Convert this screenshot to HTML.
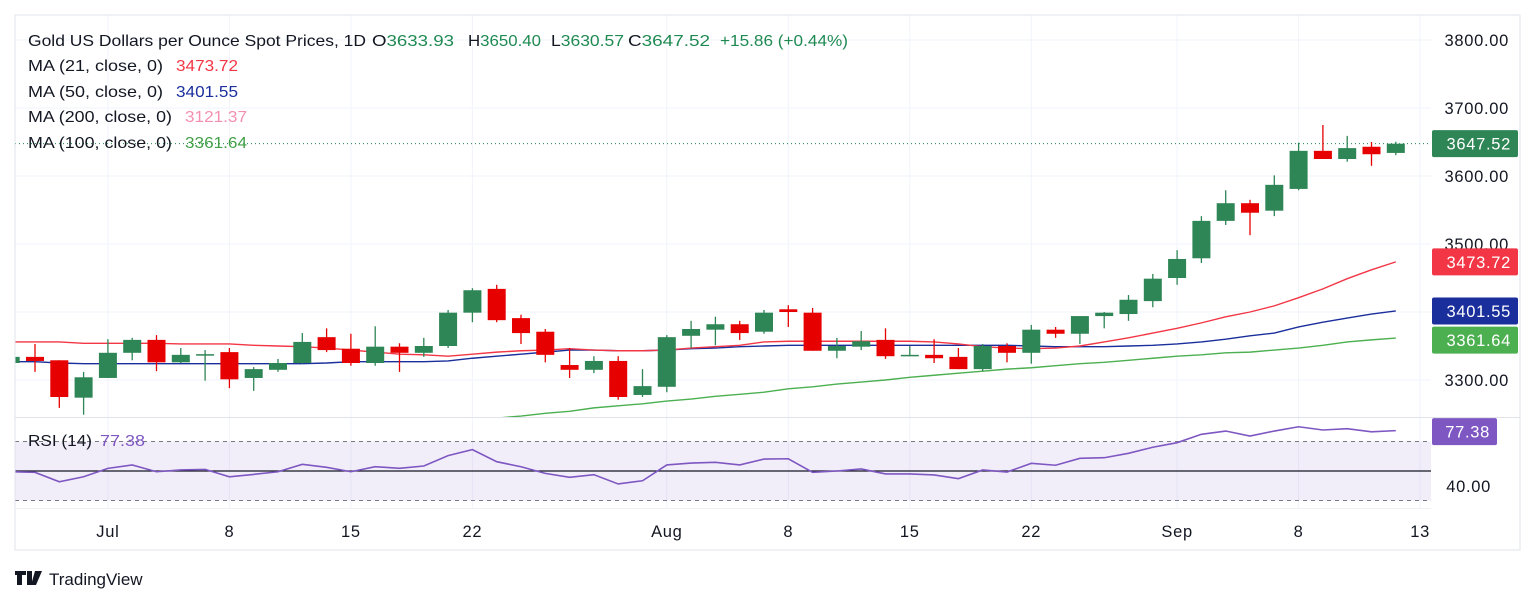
<!DOCTYPE html>
<html><head><meta charset="utf-8"><title>Gold Spot Chart</title>
<style>
html,body{margin:0;padding:0;background:#fff;}
svg{display:block;font-family:"Liberation Sans",sans-serif;}
#axes text{letter-spacing:0.7px;}
</style></head>
<body>
<svg id="chart" width="1536" height="604" viewBox="0 0 1536 604" xmlns="http://www.w3.org/2000/svg">
<defs>
<clipPath id="pclip"><rect x="15" y="15" width="1416" height="402"/></clipPath>
<clipPath id="rclip"><rect x="15" y="417" width="1416" height="91"/></clipPath>
</defs>
<g id="grid"></g>
<g id="rsipane"></g>
<g id="ma" clip-path="url(#pclip)"></g>
<g id="candles" clip-path="url(#pclip)"></g>
<g id="axes"></g>
<rect x="15" y="15" width="1505" height="535" fill="none" stroke="#e0e3eb" stroke-width="1"/>
<line x1="15" y1="417.5" x2="1520" y2="417.5" stroke="#e0e3eb"/>
<line x1="15" y1="508.5" x2="1431" y2="508.5" stroke="#eef0f4"/>
<g font-size="16" fill="#131722">
<text x="28" y="46" textLength="338" lengthAdjust="spacingAndGlyphs">Gold US Dollars per Ounce Spot Prices, 1D</text>
<text x="372" y="46" textLength="82" lengthAdjust="spacingAndGlyphs">O<tspan fill="#1e8a52">3633.93</tspan></text>
<text x="468" y="46" textLength="73" lengthAdjust="spacingAndGlyphs">H<tspan fill="#1e8a52">3650.40</tspan></text>
<text x="551" y="46" textLength="73" lengthAdjust="spacingAndGlyphs">L<tspan fill="#1e8a52">3630.57</tspan></text>
<text x="628" y="46" textLength="82" lengthAdjust="spacingAndGlyphs">C<tspan fill="#1e8a52">3647.52</tspan></text>
<text x="720" y="46" textLength="128" lengthAdjust="spacingAndGlyphs" fill="#1e8a52">+15.86 (+0.44%)</text>
<text x="28" y="71" textLength="135" lengthAdjust="spacingAndGlyphs">MA (21, close, 0)</text>
<text x="176" y="71" textLength="62" lengthAdjust="spacingAndGlyphs" fill="#f23645">3473.72</text>
<text x="28" y="97" textLength="135" lengthAdjust="spacingAndGlyphs">MA (50, close, 0)</text>
<text x="176" y="97" textLength="62" lengthAdjust="spacingAndGlyphs" fill="#1a2e9c">3401.55</text>
<text x="28" y="122" textLength="144" lengthAdjust="spacingAndGlyphs">MA (200, close, 0)</text>
<text x="185" y="122" textLength="62" lengthAdjust="spacingAndGlyphs" fill="#f48fb1">3121.37</text>
<text x="28" y="148" textLength="144" lengthAdjust="spacingAndGlyphs">MA (100, close, 0)</text>
<text x="185" y="148" textLength="62" lengthAdjust="spacingAndGlyphs" fill="#43a047">3361.64</text>
<text x="28" y="446" textLength="64" lengthAdjust="spacingAndGlyphs">RSI (14)</text>
<text x="100" y="446" textLength="45" lengthAdjust="spacingAndGlyphs" fill="#7e57c2">77.38</text>
</g>
<g>
<path d="M15 571h11v4h-4v10h-5v-10h-2z M27 571h5v14h-5z" fill="#131722"/>
<path d="M35 571h7l-6 14h-5z" fill="#131722"/>
<text x="49" y="585" font-size="17" fill="#131722">TradingView</text>
</g>
</svg>
<script>
const openP=[3325,3334,3329,3274,3303,3340,3359,3326,3337,3341,3303,3315,3325,3363,3346,3325,3349,3340,3350,3399,3434,3391,3371,3322,3315,3328,3278,3290,3365,3374,3382,3371,3404,3399,3343,3349,3359,3335,3337,3334,3316,3350,3340,3374,3368,3394,3397,3416,3450,3479,3534,3560,3549,3581,3637,3625,3643,3633.93];
const highP=[3337,3353,3329,3312,3360,3362,3366,3347,3344,3347,3319,3331,3369,3376,3368,3379,3354,3362,3403,3435,3440,3396,3375,3347,3335,3335,3316,3366,3387,3393,3387,3403,3410,3406,3362,3372,3376,3350,3360,3347,3353,3354,3381,3378,3394,3400,3425,3456,3491,3541,3579,3565,3601,3649,3675,3659,3650,3650.40];
const lowP=[3322,3312,3259,3249,3303,3329,3313,3325,3299,3288,3284,3312,3324,3341,3321,3321,3312,3334,3347,3385,3385,3353,3326,3303,3310,3271,3275,3282,3347,3351,3359,3368,3378,3343,3332,3344,3331,3335,3325,3316,3313,3326,3324,3362,3353,3376,3387,3407,3440,3472,3528,3513,3541,3579,3625,3621,3615,3630.57];
const closeP=[3334,3328,3275,3304,3340,3359,3326,3337,3338,3301,3316,3325,3356,3344,3325,3349,3340,3350,3399,3432,3388,3369,3337,3315,3328,3275,3291,3363,3375,3382,3369,3399,3400,3343,3350,3357,3335,3337,3332,3316,3350,3340,3374,3368,3394,3399,3418,3449,3478,3534,3560,3546,3587,3637,3625,3641,3632,3647.52];
const ma21=[3356,3356,3356,3354,3354,3354,3354,3353,3353,3353,3351,3350,3349,3347,3344,3341,3338,3337,3335,3338,3341,3343,3344,3346,3344,3343,3343,3344,3347,3349,3351,3356,3357,3357,3357,3357,3357,3357,3356,3353,3349,3347,3346,3347,3350,3356,3362,3369,3376,3384,3393,3400,3409,3421,3434,3449,3462,3473.72];
const ma50=[3327,3327,3325,3324,3324,3324,3324,3324,3324,3324,3324,3324,3324,3325,3327,3327,3327,3327,3328,3332,3335,3338,3341,3344,3344,3343,3343,3344,3346,3347,3349,3350,3351,3351,3351,3351,3351,3351,3351,3351,3351,3351,3350,3349,3349,3349,3350,3351,3353,3356,3360,3365,3369,3378,3385,3391,3397,3401.55];
const ma100=[null,null,null,null,null,null,null,null,null,null,null,null,null,null,null,null,null,null,null,null,3244,3247,3251,3254,3259,3262,3265,3269,3272,3276,3279,3282,3287,3290,3294,3297,3300,3304,3307,3310,3313,3316,3318,3321,3324,3326,3329,3332,3335,3337,3340,3341,3344,3347,3351,3356,3359,3361.64];
const rsi=[49.5,49.1,42.7,46.1,51.8,54.1,49.5,50.7,51.1,46.1,47.7,49.5,54.5,52.5,49.5,52.9,51.8,53.4,60.4,64.5,56.3,52.9,48.4,45.7,47.5,41.2,43.4,54.1,55.4,55.9,54.1,58.1,58.3,49.1,50.0,51.4,48.0,48.0,47.3,44.8,50.7,49.3,55.2,53.9,58.6,59.0,62.0,66.1,69.2,74.9,77.1,73.7,77.1,80.0,77.8,78.7,76.6,77.38];
const priceTicks=[3800,3700,3600,3500,3300];
const gridPrices=[3800,3700,3600,3500,3400,3300];
const timeTickIdx=[3,8,13,18,26,31,36,41,47,52,57];
const timeTickLabels=["Jul","8","15","22","Aug","8","15","22","Sep","8","13"];
const rsiLevels=[70,50,30];

const NS="http://www.w3.org/2000/svg";
function el(tag,attrs,parent,text){const e=document.createElementNS(NS,tag);for(const k in attrs)e.setAttribute(k,attrs[k]);if(text!==undefined)e.textContent=text;parent.appendChild(e);return e;}
function xOf(i){return 35+(i-1)*24.3;}
function yP(p){return 40+(3800-p)*0.68;}
function yR(v){return 471-(v-50)*1.475;}

const grid=document.getElementById('grid');
gridPrices.forEach(p=>{const l=el('line',{x1:15,x2:1431,y1:yP(p),y2:yP(p),stroke:'#f0f3fa','stroke-width':1},grid);

});
timeTickIdx.forEach(i=>{const l=el('line',{x1:xOf(i+1),x2:xOf(i+1),y1:15,y2:508,stroke:'#f0f3fa','stroke-width':1},grid);

});

const rp=document.getElementById('rsipane');
const band=el('rect',{x:15,y:yR(70),width:1416,height:yR(30)-yR(70),fill:'rgba(126,87,194,0.1)'},rp);


rsiLevels.forEach(v=>{const l=el('line',{x1:15,x2:1431,y1:yR(v),y2:yR(v),stroke:v===50?'#131722':'#787b86','stroke-width':v===50?1.2:1,'stroke-dasharray':v===50?'none':'4,4'},rp);

});
const rg=el('g',{'clip-path':'url(#rclip)'},rp);
const rpts=rsi.map((v,i)=>xOf(i)+','+yR(v)).join(' ');
const rl=el('polyline',{points:rpts,fill:'none',stroke:'#7e57c2','stroke-width':1.6},rg);



const mag=document.getElementById('ma');
function drawMA(arr,color,name){const pts=[];arr.forEach((v,i)=>{if(v!==null)pts.push(xOf(i)+','+yP(v));});
const l=el('polyline',{points:pts.join(' '),fill:'none',stroke:color,'stroke-width':1.4},mag);

}
drawMA(ma100,'#4caf50','ma100-line');
drawMA(ma50,'#1a2e9c','ma50-line');
drawMA(ma21,'#f23645','ma21-line');

const cl=el('line',{x1:15,x2:1431,y1:yP(closeP[closeP.length-1]),y2:yP(closeP[closeP.length-1]),stroke:'#1e8a52','stroke-width':1,'stroke-dasharray':'1,3'},mag);



const cg=document.getElementById('candles');
openP.forEach((o,i)=>{const c=closeP[i],h=highP[i],lo=lowP[i];const up=c>=o;const col=up?'#2e8555':'#e60000';const x=xOf(i);
const g=el('g',{},cg);


el('line',{x1:x,x2:x,y1:yP(h),y2:yP(lo),stroke:col,'stroke-width':1.3},g);
const top=yP(Math.max(o,c)),bot=yP(Math.min(o,c));
el('rect',{x:x-9,y:top,width:18,height:Math.max(bot-top,1.5),fill:col},g);});

const ax=document.getElementById('axes');
priceTicks.forEach(p=>{const t=el('text',{x:1509,y:yP(p)+6,'font-size':16.5,'text-anchor':'end',fill:'#131722'},ax,p.toFixed(2));

});
const rt=el('text',{x:1491,y:yR(40)+6,'font-size':16.5,'text-anchor':'end',fill:'#131722'},ax,'40.00');


timeTickIdx.forEach((i,k)=>{const t=el('text',{x:xOf(i+1),y:537,'font-size':16.5,'text-anchor':'middle',fill:'#131722'},ax,timeTickLabels[k]);

});

function badge(val,color,name,w,yv){const g=el('g',{},ax);


el('rect',{x:1432,y:yv-13.5,width:w,height:27,rx:2,fill:color},g);
el('text',{x:1432+w-7,y:yv+6,'font-size':16.5,'text-anchor':'end',fill:'#fff'},g,val);}
badge(closeP[closeP.length-1].toFixed(2),'#2e8555','last-price-badge',86,yP(closeP[closeP.length-1]));
badge(ma21[ma21.length-1].toFixed(2),'#f23645','ma21-badge',86,yP(ma21[ma21.length-1]));
badge(ma50[ma50.length-1].toFixed(2),'#1a2e9c','ma50-badge',86,yP(ma50[ma50.length-1]));
badge(ma100[ma100.length-1].toFixed(2),'#4caf50','ma100-badge',86,yP(ma100[ma100.length-1])+2);
badge(rsi[rsi.length-1].toFixed(2),'#7e57c2','rsi-badge',65,yR(rsi[rsi.length-1])+1);
</script>
</body></html>
